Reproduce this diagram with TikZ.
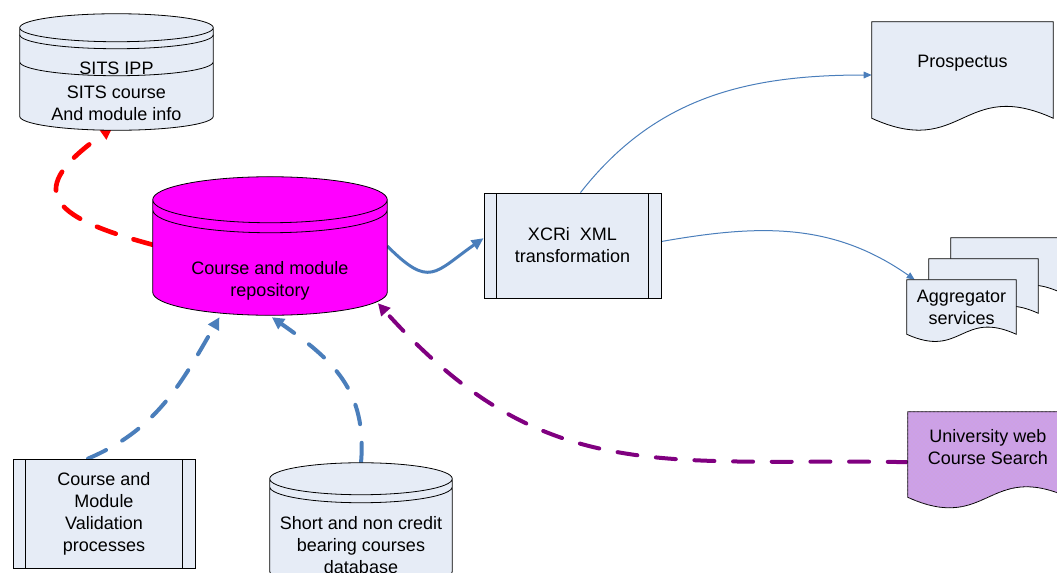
\documentclass[tikz,border=0pt]{standalone}
\usepackage{fontspec}
\setmainfont{Liberation Sans}
\usetikzlibrary{arrows.meta, calc, patterns}

\pgfdeclarelayer{links}
\pgfdeclarelayer{outlines}
\pgfsetlayers{links,outlines,main}

\definecolor{boxfill}{RGB}{230,236,246}
\definecolor{linkblue}{RGB}{74,126,187}
\definecolor{repomagenta}{RGB}{255,0,255}
\definecolor{searchpurple}{RGB}{128,0,128}
\definecolor{searchfill}{RGB}{204,160,232}

% drum: the node holds the text, lid and rim sit above it
% #1 node, #2 fill style, #3 rim radius, #4 lid height above node
\newcommand{\drawdb}[4]{%
  \begin{pgfonlayer}{outlines}
  \draw[outline, #2] let \p1=(#1.north west), \p2=(#1.south east) in
    (\x1,\y1+#4) -- (\x1,\y2+#3)
      arc[start angle=180, end angle=360, x radius={(\x2-\x1)/2}, y radius=#3]
      -- (\x2,\y1+#4)
      arc[start angle=0, end angle=180, x radius={(\x2-\x1)/2}, y radius=#3] -- cycle
    (\x1,\y1+#4) arc[start angle=180, end angle=360, x radius={(\x2-\x1)/2}, y radius=#3]
    (\x1,\y1+#3) arc[start angle=180, end angle=360, x radius={(\x2-\x1)/2}, y radius=#3];
  \end{pgfonlayer}}

% sheet with a wavy lower edge, #3 = how far the edge hangs below the node
\newcommand{\drawdoc}[3]{%
  \begin{pgfonlayer}{outlines}
  \draw[outline, #2] let \p1=(#1.north west), \p2=(#1.south east),
      \n1={(\x2-\x1)/2}, \n2={0.227*(\x2-\x1)} in
    (\x1,\y1) -- (\x2,\y1) -- (\x2,\y2-#3)
      .. controls (\x1+\n1,\y2-#3+\n2) and (\x1+\n1,\y2-#3-\n2) .. (\x1,\y2-#3) -- cycle;
  \end{pgfonlayer}}

\begin{document}
\begin{tikzpicture}[
    x=0.75pt, y=0.75pt,
    every node/.style={font=\fontsize{13.5pt}{16.5pt}\selectfont, align=center, inner sep=0pt},
    outline/.style={draw=black, line width=0.6pt},
    procbox/.style={outline, fill=boxfill,
      path picture={\draw[line width=0.6pt]
        ([xshift=9.4pt]path picture bounding box.north west) -- ([xshift=9.4pt]path picture bounding box.south west)
        ([xshift=-9.4pt]path picture bounding box.north east) -- ([xshift=-9.4pt]path picture bounding box.south east);}},
    link/.style={draw=linkblue, line width=0.75pt, -{Triangle[length=6pt, width=5pt]}},
    push/.style={draw=linkblue, line width=2.25pt, -{Triangle[length=9pt, width=8pt]}},
    feed/.style={line width=3pt, dash pattern=on 15pt off 14pt, line cap=round,
      -{Triangle[length=9pt, width=9pt]}},
  ]
    \useasboundingbox (0,0) rectangle (1057,-572);

    \node[minimum width=175.5pt, minimum height=61.5pt] (repo) at (270,-274)
      {\raisebox{-5.25pt}[\height][\depth]{\begin{tabular}{@{}c@{}}Course and module\\repository\end{tabular}}};
    \node[minimum width=144.75pt, minimum height=40.5pt] (sits) at (116.5,-103) {SITS course\\And module info};
    \node (sitsipp) at (116.5,-68) {SITS IPP};
    \node[minimum width=136.5pt, minimum height=63pt] (short) at (361,-545) {Short and non credit\\bearing courses\\database};
    \node[procbox, minimum width=132.75pt, minimum height=78.75pt] (xcri) at (572.5,-245.5) {XCRi~ XML\\transformation};
    \node[procbox, minimum width=136.5pt, minimum height=81.75pt] (valid) at (104,-513.5) {Course and\\Module\\Validation\\processes};
    \node[minimum width=135.75pt, minimum height=61.5pt] (prosp) at (962.5,-63) {Prospectus};
    \node[minimum width=81.75pt, minimum height=40.5pt] (aggback) at (1005.5,-265) {};
    \node[minimum width=81.75pt, minimum height=40.5pt] (aggmid) at (983.5,-286) {};
    \node[minimum width=81.75pt, minimum height=40.5pt] (agg) at (961.5,-307) {Aggregator\\services};
    \node[minimum width=120pt, minimum height=53.25pt] (univ) at (988,-447.5) {University web\\Course Search};

    \drawdb{repo}{fill=repomagenta}{17.25pt}{24.75pt}
    \drawdb{sits}{fill=boxfill}{10.5pt}{36pt}
    \begin{pgfonlayer}{outlines}
      \draw[outline] let \p1=(sits.north west), \p2=(sits.south east) in
        (\x1,\y1+30.75pt) arc[start angle=180, end angle=360, x radius={(\x2-\x1)/2}, y radius=10.5pt];
    \end{pgfonlayer}
    \drawdb{short}{fill=boxfill}{12pt}{18pt}

    \drawdoc{prosp}{fill=boxfill}{10.5pt}
    \drawdoc{aggback}{fill=boxfill}{0pt}
    \drawdoc{aggmid}{fill=boxfill}{0pt}
    \drawdoc{agg}{fill=boxfill}{0pt}
    \drawdoc{univ}{fill=searchfill, postaction={pattern=crosshatch dots, pattern color=searchpurple!35}}{10.5pt}

    \begin{pgfonlayer}{links}
      \draw[feed, red, line width=3.5pt] ([yshift=-9pt]repo.north west) to[out=165, in=215, looseness=2.25] ([xshift=-3pt, yshift=2pt]sits.south);
      \draw[push] ([yshift=-10pt]repo.north east) to[out=-45, in=215, looseness=1.6] ([yshift=5.5pt]xcri.west);
      \draw[link] ([xshift=6pt]xcri.north) to[out=52, in=180] ([yshift=-9pt]prosp.west);
      \draw[link] ([yshift=3pt]xcri.east) to[out=10, in=145] ([xshift=6pt]agg.north west);
      \draw[feed, linkblue] ([xshift=-12pt]valid.north) to[out=23, in=240] ([xshift=50pt, yshift=-1.5pt]repo.south west);
      \draw[feed, linkblue] ([yshift=30pt]short.north) to[out=85, in=-35, looseness=1.1] ([xshift=1.5pt, yshift=-1.5pt]repo.south);
      \draw[feed, searchpurple] ([yshift=-11pt]univ.west) to[out=179, in=-48, looseness=1.15] ([xshift=-7pt, yshift=9pt]repo.south east);
    \end{pgfonlayer}
  \end{tikzpicture}
\end{document}
